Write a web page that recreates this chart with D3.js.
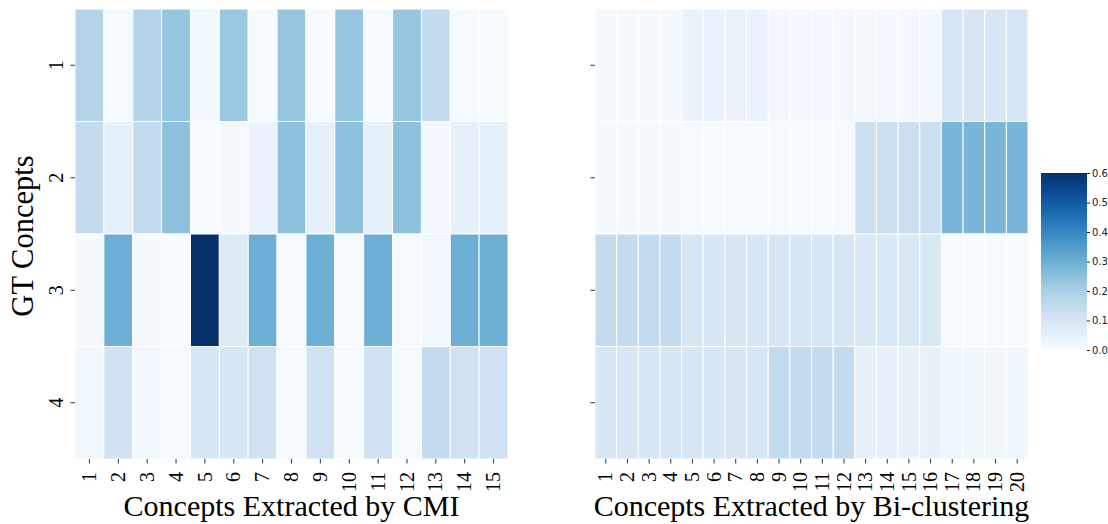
<!DOCTYPE html>
<html>
<head>
<meta charset="utf-8">
<script src="https://cdn.jsdelivr.net/npm/d3@7"></script>
<style>
  html, body { margin: 0; padding: 0; background: #fff; }
  svg { display: block; }
</style>
</head>
<body>
<svg id="chart" width="1108" height="524"></svg>
<script>
// GT concepts vs extracted concepts, two heatmaps sharing one Blues colorbar.
const gtRows = ["1", "2", "3", "4"];
const cmiCols = d3.range(1, 16).map(String);
const biCols = d3.range(1, 21).map(String);

const cmiValues = [
  [0.18, 0.005, 0.18, 0.235, 0.02, 0.23, 0.005, 0.235, 0.005, 0.235, 0.005, 0.235, 0.15, 0.005, 0.005],
  [0.15, 0.05, 0.15, 0.25, 0.0, 0.01, 0.04, 0.25, 0.05, 0.25, 0.05, 0.25, 0.015, 0.05, 0.05],
  [0.01, 0.3, 0.01, 0.0, 0.6, 0.08, 0.3, 0.005, 0.3, 0.005, 0.3, 0.005, 0.02, 0.3, 0.3],
  [0.02, 0.12, 0.02, 0.005, 0.1, 0.1, 0.12, 0.005, 0.12, 0.005, 0.12, 0.005, 0.15, 0.12, 0.12]
];

const biValues = [
  [0.008, 0.008, 0.008, 0.008, 0.04, 0.04, 0.04, 0.04, 0.015, 0.015, 0.015, 0.015, 0.012, 0.012, 0.012, 0.012, 0.1, 0.1, 0.1, 0.1],
  [0.01, 0.01, 0.01, 0.01, 0.003, 0.003, 0.003, 0.003, 0.003, 0.003, 0.003, 0.003, 0.13, 0.13, 0.13, 0.13, 0.28, 0.28, 0.28, 0.28],
  [0.15, 0.15, 0.15, 0.15, 0.1, 0.1, 0.1, 0.1, 0.1, 0.1, 0.1, 0.1, 0.09, 0.09, 0.09, 0.09, 0.005, 0.005, 0.005, 0.005],
  [0.1, 0.1, 0.1, 0.1, 0.1, 0.1, 0.1, 0.1, 0.15, 0.15, 0.15, 0.15, 0.045, 0.045, 0.045, 0.045, 0.025, 0.025, 0.025, 0.025]
];

const colorTicks = [0, 0.1, 0.2, 0.3, 0.4, 0.5, 0.6];

const svg = d3.select("#chart");
const serif = "'Liberation Serif', 'Times New Roman', serif";
const color = d3.scaleSequential(d3.interpolateBlues).domain([0, 0.6]);

const plotTop = 9, plotBottom = 459;
const y = d3.scaleBand().domain(gtRows).range([plotTop, plotBottom]);

function heatmap(cols, values, x0, x1, showLabels, title) {
  const x = d3.scaleBand().domain(cols).range([x0, x1]);
  const g = svg.append("g");

  const cells = values.flatMap((row, i) => row.map((v, j) => ({ r: gtRows[i], c: cols[j], v })));
  g.selectAll("rect").data(cells).join("rect")
    .attr("x", d => x(d.c)).attr("y", d => y(d.r))
    .attr("width", x.bandwidth()).attr("height", y.bandwidth())
    .attr("fill", d => color(d.v))
    .attr("stroke", "#fff").attr("stroke-width", 1);

  // x ticks, labels rotated
  const xa = svg.append("g").attr("transform", `translate(0,${plotBottom})`)
    .call(d3.axisBottom(x).tickSize(4.5).tickSizeOuter(0))
    .call(a => a.select(".domain").remove())
    .call(a => a.selectAll("line").attr("stroke", "#333").attr("stroke-width", 1));
  xa.selectAll("text")
    .attr("transform", "rotate(-90)")
    .attr("x", -13).attr("y", 0).attr("dy", "0.33em")
    .attr("text-anchor", "end")
    .style("font-family", serif).style("font-size", "20px").attr("fill", "#000");

  // y ticks
  const ya = svg.append("g").attr("transform", `translate(${x0},0)`)
    .call(d3.axisLeft(y).tickSize(4.5).tickSizeOuter(0))
    .call(a => a.select(".domain").remove())
    .call(a => a.selectAll("line").attr("stroke", "#333").attr("stroke-width", 1));
  if (showLabels) {
    ya.selectAll("text")
      .attr("transform", "translate(-12,0) rotate(-90)")
      .attr("x", 0).attr("y", 0).attr("dy", 0)
      .attr("text-anchor", "middle")
      .style("font-family", serif).style("font-size", "20px").attr("fill", "#000");
  } else {
    ya.selectAll("text").remove();
  }

  svg.append("text")
    .attr("x", (x0 + x1) / 2).attr("y", 516)
    .attr("text-anchor", "middle")
    .style("font-family", serif).style("font-size", "30px")
    .text(title);
}

heatmap(cmiCols, cmiValues, 75, 508, true, "Concepts Extracted by CMI");
heatmap(biCols, biValues, 595, 1028, false, "Concepts Extracted by Bi-clustering");

svg.append("text")
  .attr("transform", `translate(33,236) rotate(-90)`)
  .attr("text-anchor", "middle")
  .style("font-family", serif).style("font-size", "30.5px")
  .text("GT Concepts");

// colorbar
const cb = { x: 1041, w: 46, t: 173, b: 350 };
const grad = svg.append("defs").append("linearGradient").attr("id", "cbgrad")
  .attr("x1", 0).attr("y1", 1).attr("x2", 0).attr("y2", 0);
d3.range(0, 1.0001, 0.05).forEach(t => {
  grad.append("stop").attr("offset", t).attr("stop-color", d3.interpolateBlues(t));
});
svg.append("rect")
  .attr("x", cb.x).attr("y", cb.t).attr("width", cb.w).attr("height", cb.b - cb.t)
  .attr("fill", "url(#cbgrad)");
const cy = d3.scaleLinear().domain([0, 0.6]).range([cb.b, cb.t]);
svg.append("g").attr("transform", `translate(${cb.x + cb.w},0)`)
  .call(d3.axisRight(cy).tickValues(colorTicks).tickFormat(d3.format(".1f")).tickSize(3).tickPadding(2))
  .call(a => a.select(".domain").remove())
  .call(a => a.selectAll("line").attr("stroke", "#222"))
  .selectAll("text")
  .style("font-family", "'DejaVu Sans', sans-serif").style("font-size", "10px").attr("fill", "#222");
</script>
</body>
</html>
